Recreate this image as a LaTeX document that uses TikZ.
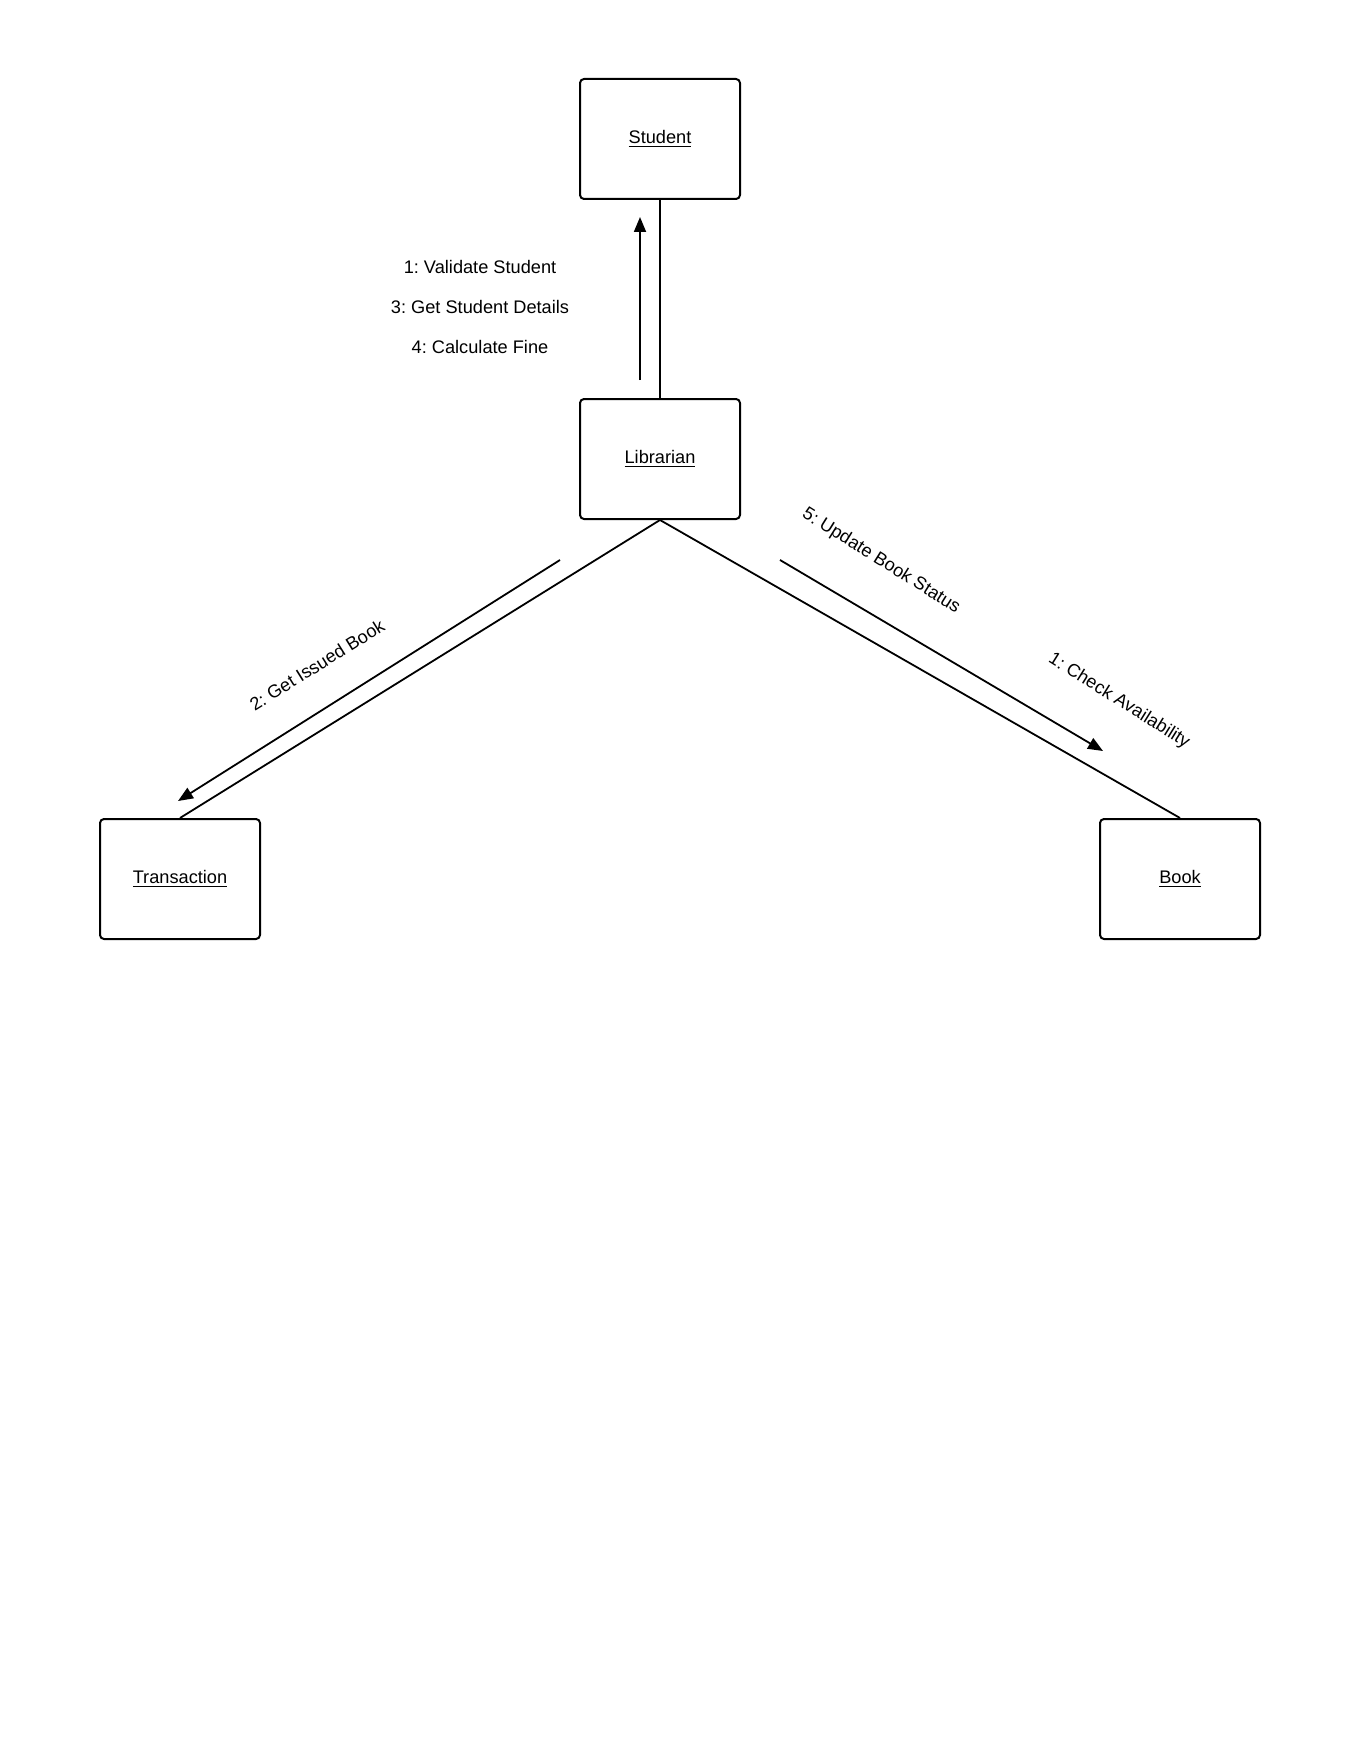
\documentclass[tikz,border=0pt]{standalone}
\usepackage{fontspec}
\setmainfont{Liberation Sans}
\usetikzlibrary{arrows.meta}
\frenchspacing
\begin{document}
\begin{tikzpicture}[x=0.5pt,y=-0.5pt,
  object/.style={draw,line width=1pt,rounded corners=2pt,minimum width=80pt,minimum height=60pt,inner sep=0pt,font=\fontsize{9.1pt}{11pt}\selectfont},
  link/.style={line width=0.9pt},
  msg/.style={line width=0.9pt,-{Triangle[length=7.5pt,width=6pt]}},
  lbl/.style={font=\fontsize{9.1pt}{11pt}\selectfont,inner sep=0pt}]
\useasboundingbox (0,0) rectangle (1360,1760);
% objects
\node[object] (student) at (660,139) {\underline{Student}};
\node[object] (librarian) at (660,459) {\underline{Librarian}};
\node[object] (transaction) at (180,879) {\underline{Transaction}};
\node[object] (book) at (1180,879) {\underline{Book}};
% links
\draw[link] (librarian.north) -- (student.south);
\draw[link] (librarian.south) -- (transaction.north);
\draw[link] (librarian.south) -- (book.north);
% message arrows
\coordinate (s0) at (640,380);
\coordinate (s1) at (640,217);
\draw[msg] (s0) -- (s1);
\coordinate (t0) at (560,560);
\coordinate (t1) at (178,801);
\draw[msg] (t0) -- (t1);
\coordinate (b0) at (780,560);
\coordinate (b1) at (1103,751);
\draw[msg] (b0) -- (b1);
% message labels
\node[lbl] (m1) at (480,267) {1: Validate Student};
\node[lbl] (m3) at (480,307) {3: Get Student Details};
\node[lbl] (m4) at (480,347) {4: Calculate Fine};
\node[lbl,rotate=32] (m2) at (317,665) {2: Get Issued Book};
\node[lbl,rotate=-32] (m5) at (881,561) {5: Update Book Status};
\node[lbl,rotate=-32] (m6) at (1119,701) {1: Check Availability};
\end{tikzpicture}
\end{document}
